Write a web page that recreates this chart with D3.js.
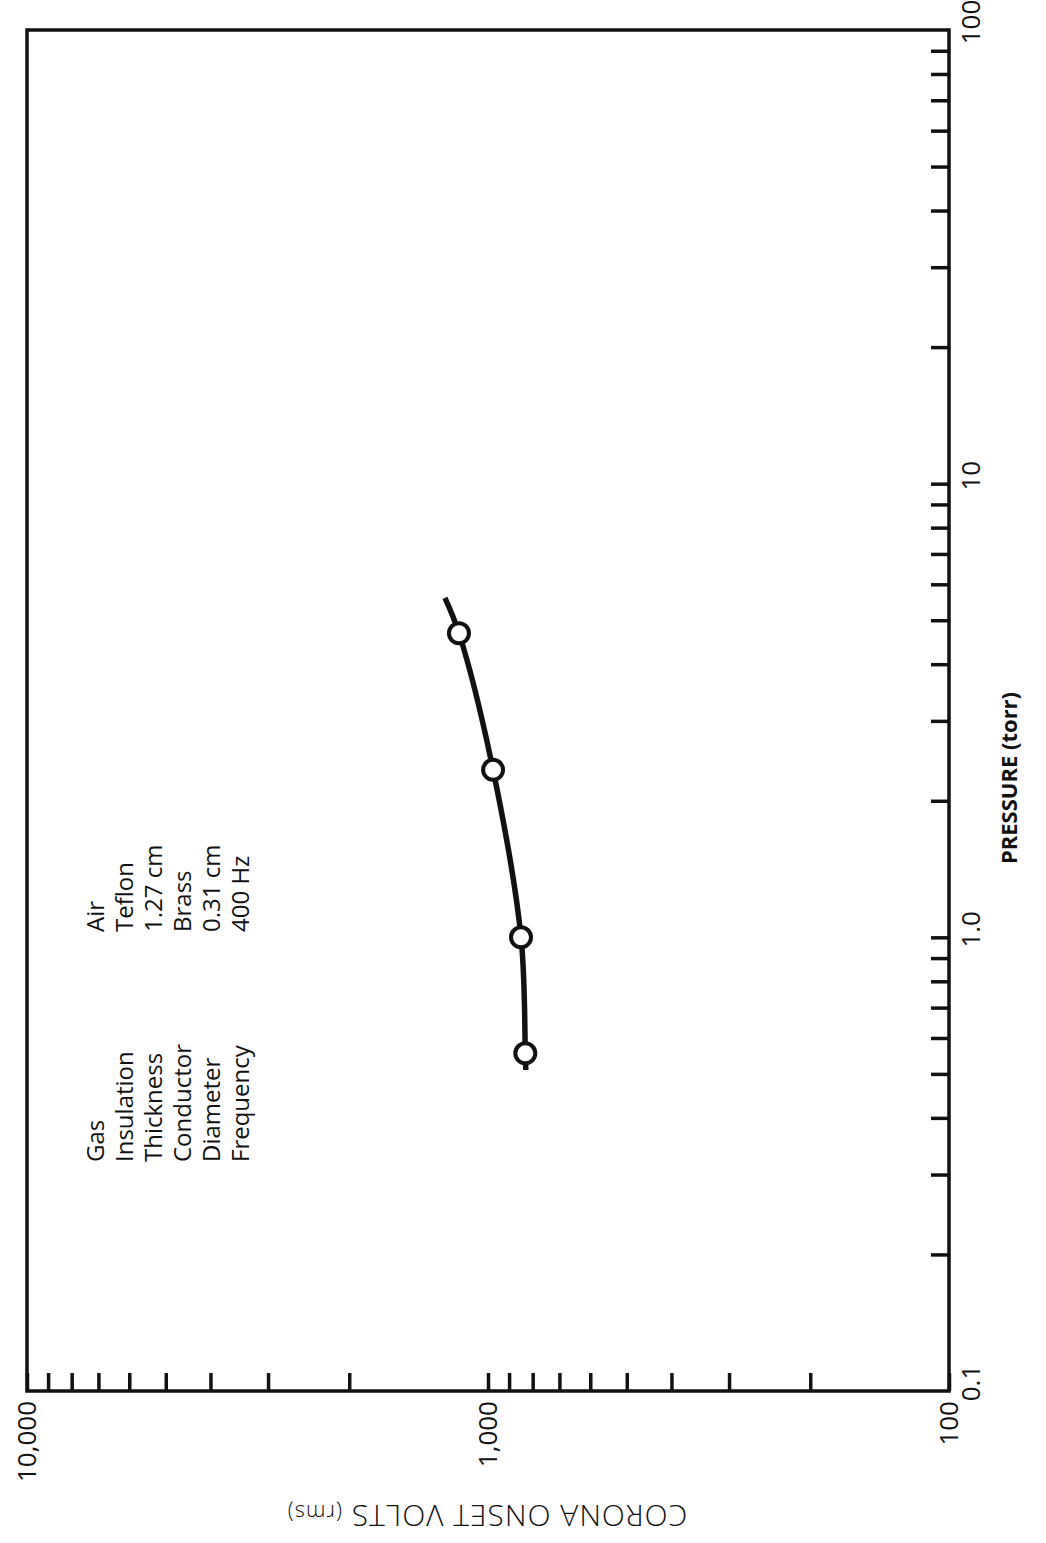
<!DOCTYPE html>
<meta charset="utf-8">
<html lang="en">
<head>
    <meta charset="UTF-8">
    <title>Corona onset vs pressure</title>
    <script src="https://d3js.org/d3.v7.min.js"></script>
    <style>
        body { margin: 0; background: #fff; }
        text { font-family: "Open Sans", "DejaVu Sans", sans-serif; fill: #111; }
    </style>
</head>
<body>
    <div id="viz"></div>
    <script>
        const pressure = [0.555, 1.0, 2.34, 4.68];          // torr
        const volts = [830, 848, 975, 1156];               // rms
        // faired curve, runs a bit past the end points
        const curveP = [0.51, 0.555, 1.0, 2.34, 4.68, 5.6];
        const curveV = [828, 830, 848, 975, 1156, 1240];

        const pressureMajor = [0.1, 1, 10, 100];
        const pressureLabels = ["0.1", "1.0", "10", "100"];
        const pressureMinor = [0.2, 0.3, 0.4, 0.5, 0.6, 0.7, 0.8, 0.9,
                               2, 3, 4, 5, 6, 7, 8, 9,
                               20, 30, 40, 50, 60, 70, 80, 90];
        const voltMajor = [100, 1000, 10000];
        const voltLabels = ["100", "1,000", "10,000"];
        const voltMinor = [200, 300, 400, 500, 600, 700, 800, 900,
                           2000, 3000, 4000, 5000, 6000, 7000, 8000, 9000];

        const legendKeys = ["Gas", "Insulation", "Thickness", "Conductor", "Diameter", "Frequency"];
        const legendVals = ["Air", "Teflon", "1.27 cm", "Brass", "0.31 cm", "400 Hz"];

        const W = 1046, H = 1543;
        const svg = d3.select("#viz")
            .append("svg")
                .attr("width", W)
                .attr("height", H);

        // chart is printed sideways: voltage runs left->right (decreasing), pressure bottom->top
        const x = d3.scaleLog().domain([10000, 100]).range([27, 949]);
        const y = d3.scaleLog().domain([0.1, 100]).range([1391, 30]);

        // frame
        svg.append("rect")
            .attr("x", x(10000)).attr("y", y(100))
            .attr("width", x(100) - x(10000))
            .attr("height", y(0.1) - y(100))
            .attr("fill", "none")
            .attr("stroke", "#111")
            .attr("stroke-width", 3.5);

        // voltage axis along the bottom edge, ticks pointing in
        const xAxis = svg.append("g")
            .attr("transform", `translate(0, ${y(0.1)})`)
            .call(d3.axisBottom(x)
                .tickValues(voltMinor.concat(voltMajor))
                .tickSize(-18)
                .tickFormat(""));
        xAxis.select(".domain").remove();
        xAxis.selectAll("line").attr("stroke", "#111").attr("stroke-width", 3.5);

        svg.selectAll(".vlab")
            .data(voltMajor)
            .join("text")
                .attr("class", "vlab")
                .attr("transform", d => `translate(${x(d) + 9}, ${y(0.1) + 10}) rotate(-90)`)
                .attr("text-anchor", "end")
                .style("font-size", "26px")
                .text((d, i) => voltLabels[i]);

        // pressure axis along the right edge
        const yAxis = svg.append("g")
            .attr("transform", `translate(${x(100)}, 0)`)
            .call(d3.axisRight(y)
                .tickValues(pressureMinor.concat([1, 10]))
                .tickSize(-18)
                .tickFormat(""));
        yAxis.select(".domain").remove();
        yAxis.selectAll("line").attr("stroke", "#111").attr("stroke-width", 3.5);

        svg.selectAll(".plab")
            .data(pressureMajor)
            .join("text")
                .attr("class", "plab")
                .attr("transform", d => `translate(${x(100) + 31}, ${y(d) - 8}) rotate(-90)`)
                .attr("text-anchor", "middle")
                .style("font-size", "26px")
                .text((d, i) => pressureLabels[i]);

        // axis titles
        svg.append("text")
            .attr("transform", `translate(${x(100) + 68}, 778) rotate(-90)`)
            .attr("text-anchor", "middle")
            .style("font-size", "22px")
            .style("font-weight", "bold")
            .text("PRESSURE (torr)");

        const yt = svg.append("text")
            .attr("transform", `translate(487, 1505) rotate(180)`)
            .attr("text-anchor", "middle")
            .style("font-size", "30px")
            .style("font-weight", "300")
            .style("letter-spacing", "1px");
        yt.append("tspan").text("CORONA ONSET VOLTS ");
        yt.append("tspan").style("font-size", "22px").text("(rms)");

        // curve
        const pts = curveP.map((p, i) => [p, curveV[i]]);
        svg.append("path")
            .datum(pts)
            .attr("fill", "none")
            .attr("stroke", "#111")
            .attr("stroke-width", 5.5)
            .attr("stroke-linecap", "butt")
            .attr("d", d3.line()
                .x(d => x(d[1]))
                .y(d => y(d[0]))
                .curve(d3.curveCatmullRom));

        // data points
        svg.selectAll(".pt")
            .data(pressure)
            .join("circle")
                .attr("class", "pt")
                .attr("cx", (d, i) => x(volts[i]))
                .attr("cy", d => y(d))
                .attr("r", 10)
                .attr("fill", "#fff")
                .attr("stroke", "#111")
                .attr("stroke-width", 4);

        // test conditions block
        const leg = svg.append("g")
            .attr("transform", `translate(104, 0)`)
            .style("font-size", "24px");
        leg.selectAll(".key")
            .data(legendKeys)
            .join("text")
                .attr("class", "key")
                .attr("transform", (d, i) => `translate(${i * 29}, 1162) rotate(-90)`)
                .text(d => d);
        leg.selectAll(".val")
            .data(legendVals)
            .join("text")
                .attr("class", "val")
                .attr("transform", (d, i) => `translate(${i * 29}, 932) rotate(-90)`)
                .text(d => d);
    </script>
</body>
</html>
